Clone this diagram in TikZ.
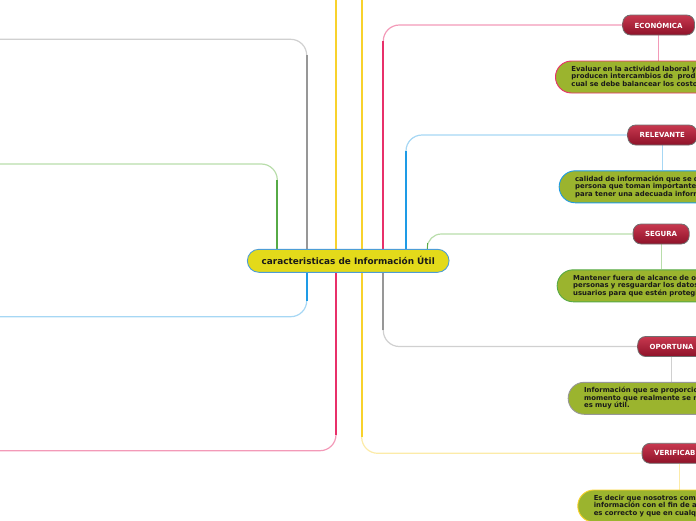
\documentclass[tikz,border=0pt]{standalone}
\usepackage{fontspec}
\setmainfont{DejaVu Sans}
\usetikzlibrary{shadings}
\pgfdeclarelayer{bg}
\pgfsetlayers{bg,main}
\definecolor{pinkS}{HTML}{E8306A}
\definecolor{pinkL}{HTML}{F39AB8}
\definecolor{blueS}{HTML}{1E9BE6}
\definecolor{blueL}{HTML}{A6D7F4}
\definecolor{greenS}{HTML}{56AA46}
\definecolor{greenL}{HTML}{B8DDAA}
\definecolor{grayS}{HTML}{979797}
\definecolor{grayL}{HTML}{D0D0D0}
\definecolor{yelS}{HTML}{F8D22C}
\definecolor{yelL}{HTML}{FCEBA8}
\definecolor{olive}{HTML}{9BB42E}
\definecolor{centerY}{HTML}{E3DA1A}
\definecolor{centerB}{HTML}{4D9DD6}
\definecolor{redT}{HTML}{C8384F}
\definecolor{redB}{HTML}{8E1229}
\definecolor{redD}{HTML}{6F6F6F}
\tikzset{
 mainbox/.style={draw=centerB, line width=0.9pt, fill=centerY, rounded corners=11.5pt, minimum width=201.7pt, minimum height=23pt, inner sep=0pt, font=\fontsize{8.9}{10}\selectfont\bfseries, text=black!90},
 titlebox/.style={draw=redD, line width=0.8pt, top color=redT, bottom color=redB, rounded corners=8pt, minimum height=20pt, inner xsep=12pt, inner ysep=0pt, anchor=west, text=white, font=\fontsize{7}{8}\selectfont\bfseries},
 descbox/.style={fill=olive, line width=0.9pt, rounded corners=16pt, minimum height=32pt, text width=220pt, inner xsep=16pt, inner ysep=0pt, anchor=west, align=left, font=\fontsize{6.9}{7.4}\selectfont\bfseries, text=black!90},
 strongline/.style={line width=1.9pt},
 lightline/.style={line width=1.2pt, rounded corners=16pt},
 subline/.style={line width=1pt},
}
\begin{document}
\begin{tikzpicture}[x=1pt,y=-1pt]
\useasboundingbox (0,0) rectangle (696,520);
\clip (0,0) rectangle (696,520);
% nodes
\node[mainbox] (c) at (348.2,260.8) {caracteristicas de Información Útil};
\node[titlebox] (t1) at (622.3,25) {ECONÓMICA};
\node[titlebox] (t2) at (627.3,135) {RELEVANTE};
\node[titlebox] (t3) at (632.7,234) {SEGURA};
\node[titlebox] (t4) at (637.3,346.5) {OPORTUNA};
\node[titlebox] (t5) at (641.7,453.3) {VERIFICABLE};
\node[descbox, draw=pinkS] (d1) at (555,77) {Evaluar en la actividad laboral y donde se\\producen intercambios de\ \ productos en la\\cual se debe balancear los costos y beneficios};
\node[descbox, draw=blueS] (d2) at (558.7,186.8) {calidad de información que se da a una\\persona que toman importantes decisiones\\para tener una adecuada información};
\node[descbox, draw=greenS] (d3) at (556.7,285.8) {Mantener fuera de alcance de otras\\personas y resguardar los datos de los\\usuarios para que estén protegidos};
\node[descbox, draw=grayS] (d4) at (567.7,398.3) {Información que se proporciona en el\\momento que realmente se necesita\\es muy útil.};
\node[descbox, draw=yelS] (d5) at (577.3,506) {Es decir que nosotros comprobamos la\\información con el fin de asegurar que\\es correcto y que en cualquier momento};
% coordinates
\coordinate (eGray) at (-5,39.3);
\coordinate (eGreen) at (-5,164);
\coordinate (eBlue) at (-5,316.7);
\coordinate (ePink) at (-5,450.7);
\coordinate (topA) at (336,-5);
\coordinate (topB) at (361.7,-5);
\coordinate (sGrayL) at (306.7,55);
\coordinate (sGreenL) at (277.3,180);
\coordinate (sBlueL) at (306.7,301);
\coordinate (sPinkL) at (336,435);
\coordinate (sYelR) at (361.7,437);
\coordinate (sPinkR) at (383.3,41);
\coordinate (sBlueR) at (406,151);
\coordinate (sGreenR) at (427.3,243);
\coordinate (sGrayR) at (383.3,330);
\begin{pgfonlayer}{bg}
% left branches
\draw[grayL, lightline] (c.north -| sGrayL) |- (eGray);
\draw[grayS, strongline] (c.north -| sGrayL) -- (sGrayL);
\draw[greenL, lightline] (c.north -| sGreenL) |- (eGreen);
\draw[greenS, strongline] (c.north -| sGreenL) -- (sGreenL);
\draw[blueL, lightline] (c.south -| sBlueL) |- (eBlue);
\draw[blueS, strongline] (c.south -| sBlueL) -- (sBlueL);
\draw[pinkL, lightline] (c.south -| sPinkL) |- (ePink);
\draw[pinkS, strongline] (c.south -| sPinkL) -- (sPinkL);
% top yellow branches
\draw[yelS, strongline] (c.north -| topA) -- (topA);
\draw[yelS, strongline] (c.north -| topB) -- (topB);
% right branches
\draw[yelL, lightline] (c.south -| sYelR) |- (t5.west);
\draw[yelS, strongline] (c.south -| sYelR) -- (sYelR);
\draw[pinkL, lightline] (c.north -| sPinkR) |- (t1.west);
\draw[pinkS, strongline] (c.north -| sPinkR) -- (sPinkR);
\draw[blueL, lightline] (c.north -| sBlueR) |- (t2.west);
\draw[blueS, strongline] (c.north -| sBlueR) -- (sBlueR);
\draw[greenL, lightline, rounded corners=14pt] (c.north -| sGreenR) |- (t3.west);
\draw[greenS, line width=1.6pt] (c.north -| sGreenR) -- (sGreenR);
\draw[grayL, lightline] (c.south -| sGrayR) |- (t4.west);
\draw[grayS, strongline] (c.south -| sGrayR) -- (sGrayR);
% sub connectors
\draw[subline, pinkL] (t1.south) -- (t1.south |- d1.north);
\draw[subline, blueL] (t2.south) -- (t2.south |- d2.north);
\draw[subline, greenL] (t3.south) -- (t3.south |- d3.north);
\draw[subline, grayL] (t4.south) -- (t4.south |- d4.north);
\draw[subline, yelL] (t5.south) -- (t5.south |- d5.north);
\end{pgfonlayer}
\end{tikzpicture}
\end{document}
